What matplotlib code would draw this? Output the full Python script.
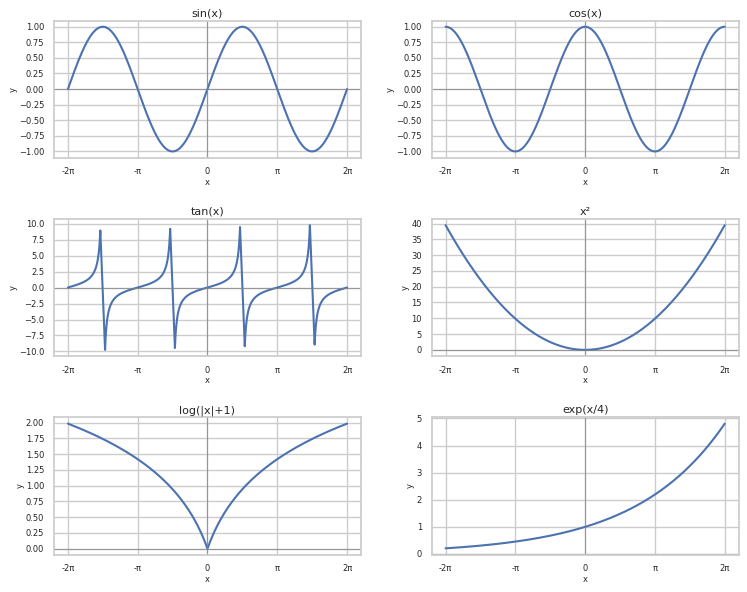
import numpy as np
import matplotlib
matplotlib.use("Agg")
import matplotlib.pyplot as plt
from matplotlib.ticker import MultipleLocator
import seaborn as sns

sns.set_theme(style="whitegrid")
plt.rcParams['font.family'] = ['DejaVu Sans']

x = np.linspace(-2*np.pi, 2*np.pi, 1000)
titles = ["sin(x)", "cos(x)", "tan(x)", "x²", "log(|x|+1)", "exp(x/4)"]
tan_y = np.tan(x)
keep = np.abs(tan_y) < 10
series = [(x, np.sin(x)), (x, np.cos(x)), (x[keep], tan_y[keep]), (x, x**2),
          (x, np.log(np.abs(x)+1)), (x, np.exp(x/4))]
ysteps = [0.25, 0.25, 2.5, 5, 0.25, 1]
tick_pos = [-2*np.pi, -np.pi, 0, np.pi, 2*np.pi]
tick_labels = ["-2π", "-π", "0", "π", "2π"]

fig, axes = plt.subplots(3, 2, figsize=(7.47, 5.92), dpi=100)
for ax, t, (xx, y), st in zip(axes.flat, titles, series, ysteps):
    ax.plot(xx, y, color="#4c72b0", lw=1.5)
    ax.axhline(0, color="gray", lw=0.8, alpha=0.7)
    ax.axvline(0, color="gray", lw=0.8, alpha=0.7)
    ax.set_title(t, fontsize=8, pad=3)
    ax.set_xlabel("x", fontsize=6, labelpad=1)
    ax.set_ylabel("y", fontsize=6, labelpad=1)
    ax.set_xticks(tick_pos)
    ax.set_xticklabels(tick_labels)
    ax.yaxis.set_major_locator(MultipleLocator(st))
    ax.tick_params(labelsize=6, pad=1)
    for s in ax.spines.values():
        s.set_color("#cccccc")
fig.tight_layout(pad=0.5, h_pad=1.2, w_pad=1.5)
fig.savefig("out.png")
